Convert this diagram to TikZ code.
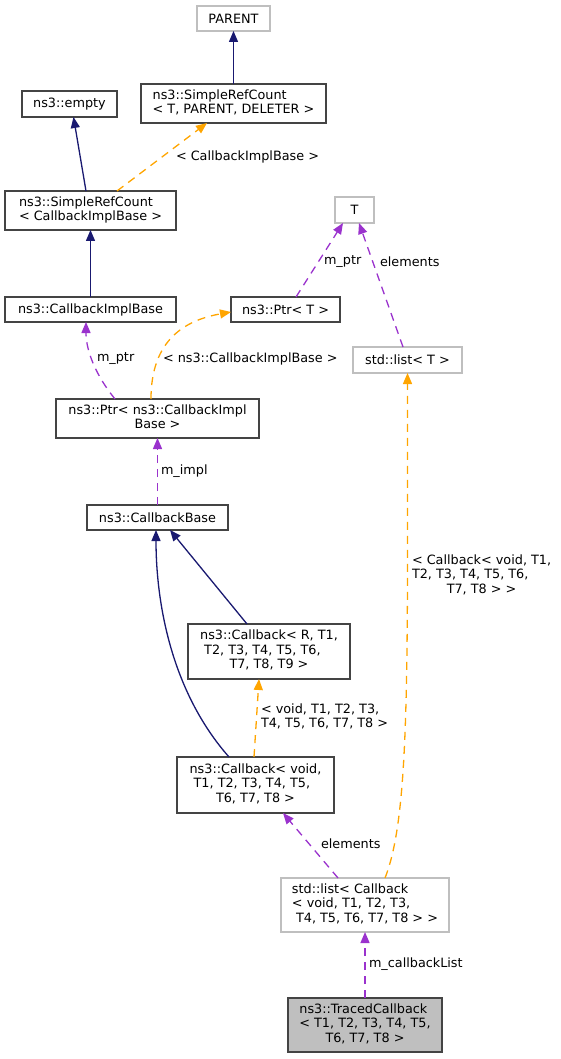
\documentclass[tikz,border=0pt]{standalone}
\usepackage{fontspec}
\setmainfont{DejaVu Sans}
\usetikzlibrary{arrows.meta}
\definecolor{navy}{HTML}{191970}
\definecolor{purp}{HTML}{9A32CD}
\definecolor{orng}{HTML}{FFA500}
\definecolor{bdark}{HTML}{444444}
\definecolor{blight}{HTML}{BFBFBF}
\newcommand{\ml}[1]{\begin{tabular}{@{}l@{}}#1\end{tabular}}
\newcommand{\cl}[1]{\multicolumn{1}{@{}c@{}}{#1}}
\begin{document}
\begin{tikzpicture}[x=1pt,y=-1pt,
  font=\fontsize{12.8}{14.4}\selectfont,
  every node/.style={inner sep=0pt,outer sep=0pt},
  cls/.style={draw=bdark,line width=1.2pt,fill=white,align=center},
  ucls/.style={draw=blight,line width=1.2pt,fill=white,align=center},
  tip/.style={-{Triangle[length=11pt,width=9pt]}},
  inh/.style={tip,draw=navy,line width=1.3pt},
  use/.style={tip,draw=purp,line width=1.3pt,dash pattern=on 8pt off 6pt},
  tmpl/.style={tip,draw=orng,line width=1.3pt,dash pattern=on 8pt off 6pt},
  lbl/.style={anchor=west}
]
\useasboundingbox (0,0) rectangle (560,1059);

% nodes
\node[ucls,minimum width=73pt,minimum height=25pt] (parent) at (233.5,18.5) {PARENT};
\node[cls,minimum width=185pt,minimum height=39pt] (srcT) at (233.5,103.5)
  {\ml{ns3::SimpleRefCount\\< T, PARENT, DELETER >}};
\node[cls,minimum width=95pt,minimum height=26pt] (empty) at (69.5,104) {ns3::empty};
\node[cls,minimum width=171pt,minimum height=39pt] (srcCIB) at (90.5,210.5)
  {\ml{ns3::SimpleRefCount\\< CallbackImplBase >}};
\node[ucls,minimum width=39pt,minimum height=26pt] (T) at (354.5,210) {T};
\node[cls,minimum width=171pt,minimum height=25pt] (cib) at (90.5,309.5) {ns3::CallbackImplBase};
\node[cls,minimum width=109pt,minimum height=25pt] (ptrT) at (285.5,309.5) {ns3::Ptr< T >};
\node[ucls,minimum width=109pt,minimum height=26pt] (listT) at (407.5,360) {std::list< T >};
\node[cls,minimum width=203pt,minimum height=39pt] (ptrCIB) at (157.5,418.5)
  {\ml{ns3::Ptr< ns3::CallbackImpl\\\cl{Base >}}};
\node[cls,minimum width=141pt,minimum height=25pt] (cbBase) at (157.5,517.5) {ns3::CallbackBase};
\node[cls,minimum width=162pt,minimum height=55pt] (cbR) at (269,651.5)
  {\ml{ns3::Callback< R, T1,\\\ T2, T3, T4, T5, T6,\\\cl{T7, T8, T9 >}}};
\node[cls,minimum width=157pt,minimum height=56pt] (cbVoid) at (255.5,785)
  {\ml{ns3::Callback< void,\\\ T1, T2, T3, T4, T5,\\\cl{T6, T7, T8 >}}};
\node[ucls,minimum width=168pt,minimum height=54pt] (listCb) at (365,905)
  {\ml{std::list< Callback\\< void, T1, T2, T3,\\\cl{\ T4, T5, T6, T7, T8 > >}}};
\node[cls,fill=blight,minimum width=154pt,minimum height=54pt] (traced) at (365,1025)
  {\ml{ns3::TracedCallback\\< T1, T2, T3, T4, T5,\\\cl{T6, T7, T8 >}}};

% connectors
\draw[inh] (srcT.north) -- (parent.south);
\draw[inh] ([xshift=-4.5pt]srcCIB.north) -- ([xshift=4pt]empty.south);
\draw[tmpl] ([xshift=26.5pt]srcCIB.north) -- ([xshift=-26.5pt]srcT.south);
\draw[inh] (cib.north) -- (srcCIB.south);
\draw[use] ([xshift=-42.5pt]ptrCIB.north) .. controls +(-18,-22) and +(0,30) .. ([xshift=-4.5pt]cib.south);
\draw[tmpl] ([xshift=-6.5pt]ptrCIB.north) .. controls +(0,-60) and +(-45,8) .. ([yshift=-2.5pt]ptrT.west);
\draw[use] ([xshift=10.5pt]ptrT.north) -- ([xshift=-11.5pt]T.south);
\draw[use] ([xshift=-4.5pt]listT.north) -- ([xshift=4.5pt]T.south);
\draw[use] (cbBase.north) -- (ptrCIB.south);
\draw[inh] ([xshift=-22pt]cbR.north) -- ([xshift=12.5pt]cbBase.south);
\draw[inh] ([xshift=-26.5pt]cbVoid.north) .. controls +(-59,-67) and +(0,70) .. ([xshift=-1.5pt]cbBase.south);
\draw[tmpl] ([xshift=-1.5pt]cbVoid.north) -- ([xshift=-10pt]cbR.south);
\draw[use] ([xshift=-27pt]listCb.north) -- ([xshift=27.5pt]cbVoid.south);
\draw[tmpl] ([xshift=20pt]listCb.north) .. controls +(25,-63) and +(0,300) .. (listT.south);
\draw[use] (traced.north) -- (listCb.south);

% labels
\node[lbl] (l1) at (176,157) {< CallbackImplBase >};
\node[lbl] (l2) at (97,359) {m\_ptr};
\node[lbl] (l3) at (163,359) {< ns3::CallbackImplBase >};
\node[lbl] (l4) at (324,262) {m\_ptr};
\node[lbl] (l5) at (380,262) {elements};
\node[lbl] (l6) at (161,471) {m\_impl};
\node[lbl] (l7) at (412,576) {\ml{< Callback< void, T1,\\T2, T3, T4, T5, T6,\\\cl{T7, T8 > >}}};
\node[lbl] (l8) at (261,717.5) {\ml{< void, T1, T2, T3,\\T4, T5, T6, T7, T8 >}};
\node[lbl] (l9) at (321,844) {elements};
\node[lbl] (l10) at (369,964) {m\_callbackList};
\end{tikzpicture}
\end{document}
